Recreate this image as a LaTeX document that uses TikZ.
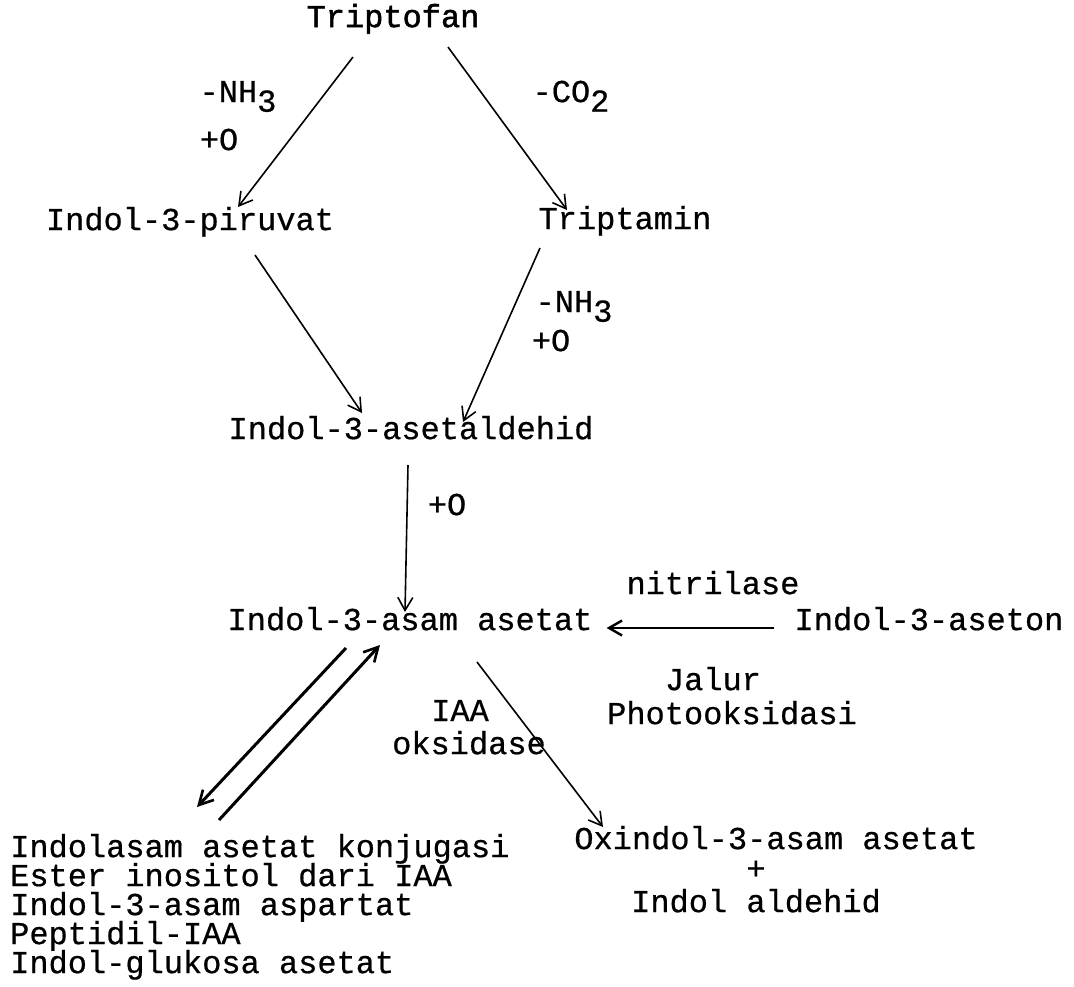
\documentclass[tikz,border=0pt]{standalone}
\usepackage{fontspec}
\setmainfont{Liberation Mono}[FakeBold=0.6]
\newfontfamily\tripfont{Liberation Mono}[FakeBold=1.6]
\usetikzlibrary{arrows.meta}
\begin{document}
\begin{tikzpicture}[x=1pt,y=-1pt,
  font=\fontsize{32}{30}\selectfont,
  lbl/.style={inner sep=0pt,text height=0.62em,text depth=0.2em},
  lft/.style={lbl,anchor=west},
  arr/.style={line width=1.6pt,-{Straight Barb[length=13pt,width=15pt,line width=1.6pt]}},
  harr/.style={line width=2.2pt,-{Straight Barb[length=13pt,width=15pt,line width=2.4pt]}},
  darr/.style={line width=3pt,-{Straight Barb[length=14pt,width=15pt,line width=2.6pt]}}]
\fill[white] (0,0) rectangle (1074,986);
\useasboundingbox (0,0) rectangle (1074,986);

% compounds
\node[lbl,font=\fontsize{32}{30}\tripfont] (trip) at (393,25) {Triptofan};
\node[lbl] (pir) at (190,228) {Indol-3-piruvat};
\node[lbl] (tam) at (625,227) {Triptamin};
\node[lbl] (ald) at (411,437) {Indol-3-asetaldehid};
\node[lbl] (iaa) at (410,628) {Indol-3-asam asetat};
\node[lbl] (aset) at (929,628) {Indol-3-aseton};
\node[lft] (conj1) at (10,855) {Indolasam asetat konjugasi};
\node[lft] (conj2) at (10,884) {Ester inositol dari IAA};
\node[lft] (conj3) at (10,913) {Indol-3-asam aspartat};
\node[lft] (conj4) at (10,942) {Peptidil-IAA};
\node[lft] (conj5) at (10,971) {Indol-glukosa asetat};
\node[lbl] (ox) at (776,847) {Oxindol-3-asam asetat};
\node[lbl] (plus) at (756,877) {+};
\node[lbl] (indald) at (756,910) {Indol aldehid};

% reaction labels
\node[lbl] (nh3a) at (238,100) {-NH\raisebox{-0.3em}{3}};
\node[lbl] (oa) at (219,148) {+O};
\node[lbl] (co2) at (571,100) {-CO\raisebox{-0.3em}{2}};
\node[lbl] (nh3b) at (574,310) {-NH\raisebox{-0.3em}{3}};
\node[lbl] (ob) at (551,349) {+O};
\node[lbl] (oc) at (447,513) {+O};
\node[lbl] (nitr) at (713,592) {nitrilase};
\node[lbl] (jal) at (713,688) {Jalur};
\node[lbl] (photo) at (732,722) {Photooksidasi};
\node[lbl] (iaalbl) at (460,719) {IAA};
\node[lbl] (oks) at (469,752) {oksidase};

% connectors
\draw[arr] ([shift={(-40,32)}]trip.center) -- ([shift={(48,-21)}]pir.center);
\draw[arr] ([shift={(55,22)}]trip.center) -- ([shift={(-58,-17)}]tam.center);
\draw[arr] ([shift={(65,27)}]pir.center) -- ([shift={(-49,-24)}]ald.center);
\draw[arr] ([shift={(-85,21)}]tam.center) -- ([shift={(52,-15)}]ald.center);
\draw[arr] ([shift={(-3,28)}]ald.center) -- ([shift={(-5,-16)}]iaa.center);
\draw[harr] ([shift={(-20,0)}]aset.west) -- ([shift={(14,0)}]iaa.east);
\draw[darr] ([shift={(-64,20)}]iaa.center) -- ([shift={(187,-48)}]conj1.west);
\draw[darr] ([shift={(209,-35)}]conj1.west) -- ([shift={(-30,17)}]iaa.center);
\draw[arr] ([shift={(67,34)}]iaa.center) -- ([shift={(-173,-20)}]ox.center);
\end{tikzpicture}
\end{document}
